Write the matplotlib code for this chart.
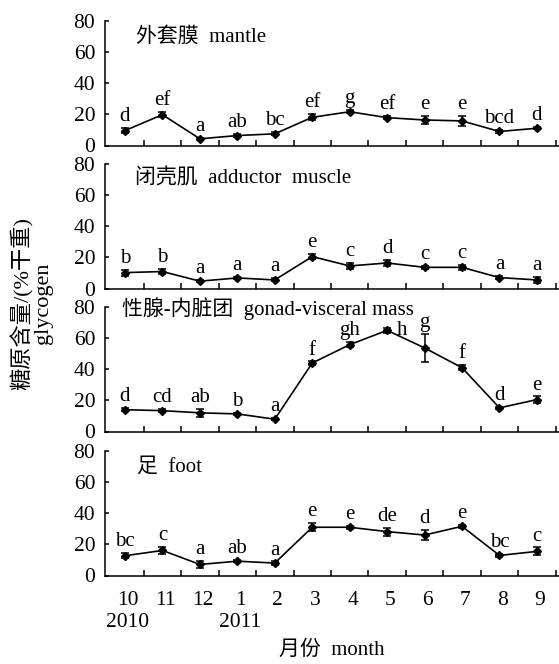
import numpy as np
import matplotlib
matplotlib.use('Agg')
import matplotlib.pyplot as plt
import matplotlib.transforms as mtransforms
from matplotlib.ticker import FixedLocator

plt.rcParams['font.family'] = ['Liberation Serif', 'Noto Sans CJK SC']
plt.rcParams['font.size'] = 15

# --- data: glycogen content (% dry weight), Oct 2010 - Sep 2011 ---
months = ['10\n2010', '11', '12', '1\n2011', '2', '3', '4', '5', '6', '7', '8', '9']

mantle = [9.6, 19.8, 4.3, 6.4, 7.5, 18.1, 21.7, 17.9, 16.4, 15.8, 9.0, 11.1]
mantle_sd = [1.5, 1.5, 0.8, 0.8, 1.0, 2.0, 1.0, 1.0, 2.5, 3.0, 0.8, 0.8]
mantle_sig = ['d', 'ef', 'a', 'ab', 'bc', 'ef', 'g', 'ef', 'e', 'e', 'bcd', 'd']

adductor = [10.2, 10.9, 4.7, 6.8, 5.5, 20.5, 14.5, 16.4, 13.6, 13.6, 7.0, 5.5]
adductor_sd = [2.0, 1.5, 0.8, 0.8, 1.0, 1.5, 1.8, 1.8, 1.0, 1.5, 0.8, 1.8]
adductor_sig = ['b', 'b', 'a', 'a', 'a', 'e', 'c', 'd', 'c', 'c', 'a', 'a']

gonad = [14.0, 13.4, 12.0, 11.3, 7.9, 44.0, 55.8, 65.0, 53.7, 41.0, 15.2, 20.5]
gonad_sd = [1.0, 1.0, 2.5, 0.8, 0.8, 1.0, 1.8, 1.5, 9.0, 1.8, 0.8, 2.0]
gonad_sig = ['d', 'cd', 'ab', 'b', 'a', 'f', 'gh', 'h', 'g', 'f', 'd', 'e']

foot = [12.7, 16.1, 7.1, 9.2, 8.0, 31.0, 31.0, 28.2, 26.0, 31.6, 12.9, 15.5]
foot_sd = [1.5, 2.5, 2.5, 0.8, 1.0, 2.5, 0.8, 2.5, 3.0, 1.0, 1.0, 2.5]
foot_sig = ['bc', 'c', 'a', 'ab', 'a', 'e', 'e', 'de', 'd', 'e', 'bc', 'c']

tissues = [
    ('外套膜  mantle', mantle, mantle_sd, mantle_sig, (0.068, 0.87)),
    ('闭壳肌  adductor  muscle', adductor, adductor_sd, adductor_sig, (0.066, 0.888)),
    ('性腺-内脏团  gonad-visceral mass', gonad, gonad_sd, gonad_sig, (0.038, 0.985)),
    ('足  foot', foot, foot_sd, foot_sig, (0.07, 0.872)),
]

W, H = 559, 664
fig = plt.figure(figsize=(W / 100, H / 100), dpi=100)

x = np.arange(len(months))
left_px, right_px = 105, 559
tops = [21, 164, 307, 451]
ph = 124.5
FS = 15

for k, (title, vals, sd, sig, tpos) in enumerate(tissues):
    top = tops[k]
    ax = fig.add_axes([left_px / W, 1 - (top + ph) / H, (right_px - left_px) / W, ph / H])
    ax.errorbar(x, vals, yerr=sd, color='black', lw=1.2, marker='D', ms=4,
                capsize=3, capthick=1.1, elinewidth=1.1, clip_on=False)
    ax.set_xlim(-0.534, 11.59)
    ax.set_ylim(0, 80)
    ax.set_yticks([0, 20, 40, 60, 80])
    ax.spines['top'].set_visible(False)
    ax.spines['right'].set_visible(False)
    for s in ('left', 'bottom'):
        ax.spines[s].set_linewidth(1.1)
    ax.tick_params(axis='y', direction='in', length=3, width=1.1, pad=7, labelsize=FS + 0.5)
    ax.xaxis.set_minor_locator(FixedLocator(np.arange(0.5, 12, 1)))
    ax.tick_params(axis='x', which='minor', direction='in', length=4, width=1.1)
    ax.tick_params(axis='x', which='major', length=0, pad=11, labelsize=FS + 0.5)
    ax.set_xticks(x)
    if k < 3:
        ax.set_xticklabels([])
    else:
        ax.set_xticklabels(months, linespacing=1.25)
        shift = mtransforms.ScaledTranslation(3 / 100, 0, fig.dpi_scale_trans)
        for lab in ax.get_xticklabels():
            lab.set_transform(lab.get_transform() + shift)
        ax.set_xlabel('月份  month', fontsize=FS, labelpad=6)

    ax.text(tpos[0], tpos[1], title, transform=ax.transAxes, fontsize=FS,
            ha='left', va='center')

    # significance letters above each error bar
    for i in range(len(x)):
        if k == 2 and sig[i] == 'h':
            ax.annotate(sig[i], (x[i], vals[i]), xytext=(11, -3), textcoords='offset points',
                        ha='center', va='baseline', fontsize=FS)
        else:
            ax.annotate(sig[i], (x[i], vals[i] + sd[i]), xytext=(0, 5), textcoords='offset points',
                        ha='center', va='baseline', fontsize=FS)

fig.text(32 / W, 1 - 303 / H, '糖原含量/(%干重)\nglycogen', rotation=90,
         ha='center', va='center', multialignment='center', fontsize=16, linespacing=1.0)

fig.savefig('out.png', dpi=100, facecolor='white')
